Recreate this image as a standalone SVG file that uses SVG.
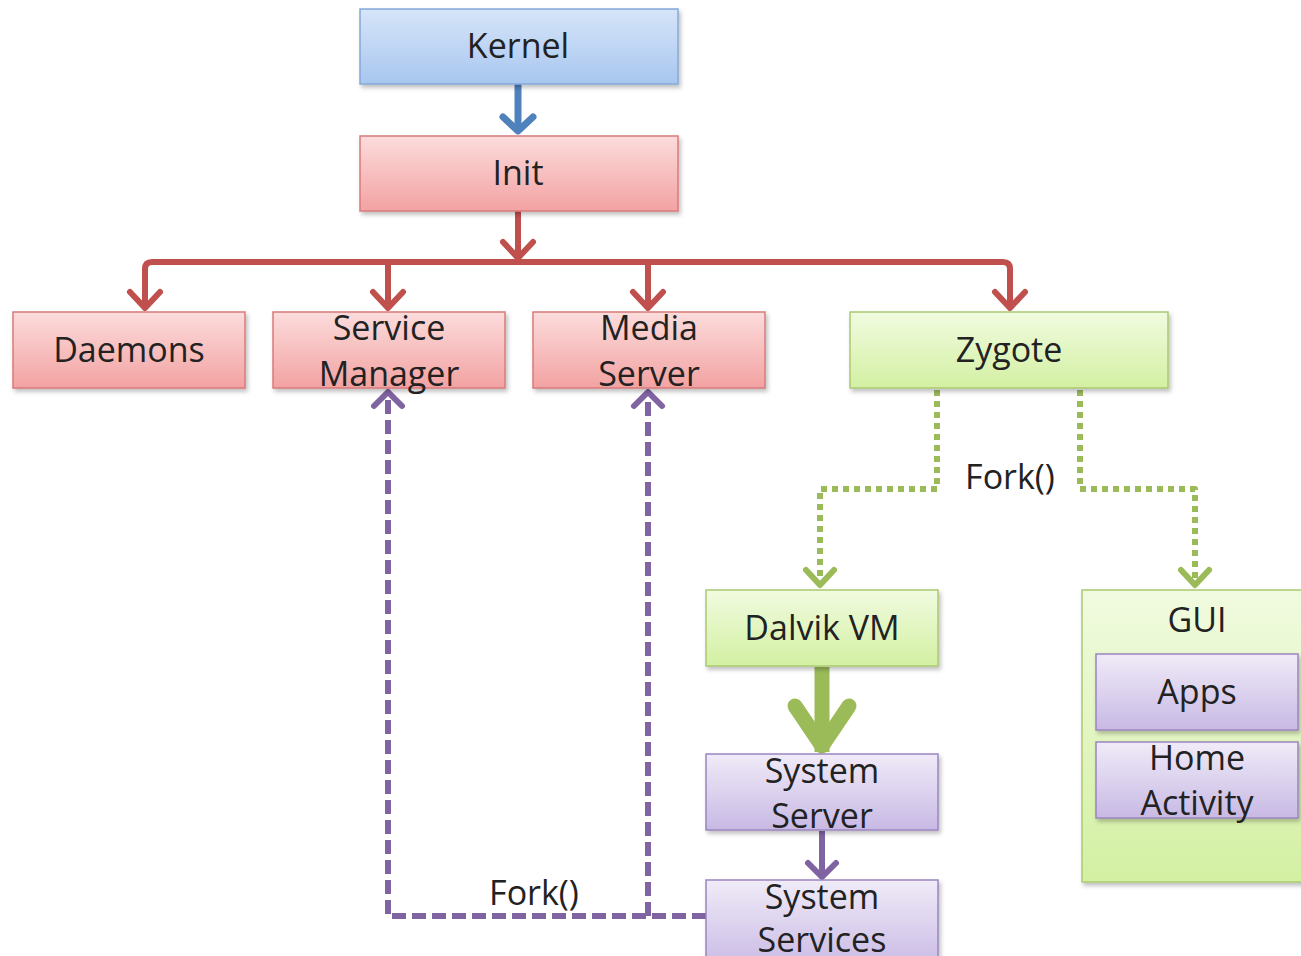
<svg xmlns="http://www.w3.org/2000/svg" width="1301" height="956" viewBox="0 0 1301 956">
  <defs>
    <linearGradient id="gBlue" x1="0" y1="0" x2="0" y2="1">
      <stop offset="0" stop-color="#d6e5f9"/>
      <stop offset="1" stop-color="#a8c6ef"/>
    </linearGradient>
    <linearGradient id="gRed" x1="0" y1="0" x2="0" y2="1">
      <stop offset="0" stop-color="#fcdcdc"/>
      <stop offset="1" stop-color="#f3a2a2"/>
    </linearGradient>
    <linearGradient id="gGreen" x1="0" y1="0" x2="0" y2="1">
      <stop offset="0" stop-color="#f1fbe0"/>
      <stop offset="1" stop-color="#d3f0a2"/>
    </linearGradient>
    <linearGradient id="gPurple" x1="0" y1="0" x2="0" y2="1">
      <stop offset="0" stop-color="#f0ebf8"/>
      <stop offset="1" stop-color="#c8b9e4"/>
    </linearGradient>
    <filter id="shadow" x="-5%" y="-10%" width="115%" height="130%">
      <feDropShadow dx="2" dy="3" stdDeviation="2" flood-color="#000" flood-opacity="0.25"/>
    </filter>
    <marker id="aBlue" viewBox="-25 -25 50 50" markerWidth="50" markerHeight="50" markerUnits="userSpaceOnUse" refX="0" refY="0" orient="auto">
      <path d="M-15,-15 L-1,0 L-15,15" fill="none" stroke="#4f81bd" stroke-width="7" stroke-linecap="round" stroke-linejoin="round"/>
    </marker>
    <marker id="aRed" viewBox="-25 -25 50 50" markerWidth="50" markerHeight="50" markerUnits="userSpaceOnUse" refX="0" refY="0" orient="auto">
      <path d="M-17,-15 L-1,0 L-17,15" fill="none" stroke="#c0504d" stroke-width="6" stroke-linecap="round" stroke-linejoin="round"/>
    </marker>
    <marker id="aGreen" viewBox="-25 -25 50 50" markerWidth="50" markerHeight="50" markerUnits="userSpaceOnUse" refX="0" refY="0" orient="auto">
      <path d="M-16,-14 L-1,0 L-16,14" fill="none" stroke="#9bbb59" stroke-width="6" stroke-linecap="round" stroke-linejoin="round"/>
    </marker>
    <marker id="aGreenBig" viewBox="-60 -60 120 120" markerWidth="120" markerHeight="120" markerUnits="userSpaceOnUse" refX="0" refY="0" orient="auto">
      <path d="M-46,-27 L-6,0 L-46,27" fill="none" stroke="#9bbb59" stroke-width="15" stroke-linecap="round" stroke-linejoin="round"/>
    </marker>
    <marker id="aPurple" viewBox="-25 -25 50 50" markerWidth="50" markerHeight="50" markerUnits="userSpaceOnUse" refX="0" refY="0" orient="auto">
      <path d="M-15,-14 L-1,0 L-15,14" fill="none" stroke="#8064a2" stroke-width="6" stroke-linecap="round" stroke-linejoin="round"/>
    </marker>
    <style>
      .box { stroke-width: 1.5; filter: url(#shadow); }
      .blue { fill: url(#gBlue); stroke: #84a8d8; }
      .red { fill: url(#gRed); stroke: #d77b7a; }
      .green { fill: url(#gGreen); stroke: #abc972; }
      .purple { fill: url(#gPurple); stroke: #9b85c0; }
      text { font-family: "Open Sans", "Liberation Sans", sans-serif; font-size: 34px; fill: #222; text-anchor: middle; }
      .c { fill: none; stroke-linejoin: round; }
      .red-line { stroke: #c0504d; stroke-width: 6; marker-end: url(#aRed); }
      .green-dot { stroke: #9bbb59; stroke-width: 6; stroke-dasharray: 6 5; marker-end: url(#aGreen); }
      .purple-dash { stroke: #8064a2; stroke-width: 6; stroke-dasharray: 14 6; marker-end: url(#aPurple); }
    </style>
  </defs>

  <g id="connectors">
    <!-- Kernel to Init -->
    <path class="c" d="M518,84 V132" stroke="#4f81bd" stroke-width="7" marker-end="url(#aBlue)"/>
    <!-- Init fan-out -->
    <path class="c red-line" d="M518,211 V259"/>
    <path class="c red-line" d="M518,262 H152 Q145,262 145,269 V309"/>
    <path class="c red-line" d="M518,262 H1003 Q1010,262 1010,269 V309"/>
    <path class="c red-line" d="M388,262 V309"/>
    <path class="c red-line" d="M648,262 V309"/>
    <!-- Zygote forks -->
    <path class="c green-dot" d="M937,390 V489 H820 V586"/>
    <path class="c green-dot" d="M1080,390 V489 H1195 V586"/>
    <!-- Dalvik VM to System Server -->
    <path class="c" d="M822,667 V752" stroke="#9bbb59" stroke-width="15" marker-end="url(#aGreenBig)"/>
    <!-- System Server to System Services -->
    <path class="c" d="M822,831 V878" stroke="#8064a2" stroke-width="6" marker-end="url(#aPurple)"/>
    <!-- System Services forks -->
    <path class="c purple-dash" d="M706,916 H388 V391"/>
    <path class="c purple-dash" d="M648,916 V391"/>
    <text x="1010" y="489">Fork()</text>
    <text x="534" y="905">Fork()</text>
  </g>

  <g id="kernel">
    <rect class="box blue" x="360" y="9" width="318" height="75"/>
    <text x="518" y="58">Kernel</text>
  </g>
  <g id="init">
    <rect class="box red" x="360" y="136" width="318" height="75"/>
    <text x="518" y="185">Init</text>
  </g>
  <g id="daemons">
    <rect class="box red" x="13" y="312" width="232" height="76"/>
    <text x="129" y="362">Daemons</text>
  </g>
  <g id="service-manager">
    <rect class="box red" x="273" y="312" width="232" height="76"/>
    <text x="389" y="340">Service</text>
    <text x="389" y="386">Manager</text>
  </g>
  <g id="media-server">
    <rect class="box red" x="533" y="312" width="232" height="76"/>
    <text x="649" y="340">Media</text>
    <text x="649" y="386">Server</text>
  </g>
  <g id="zygote">
    <rect class="box green" x="850" y="312" width="318" height="76"/>
    <text x="1009" y="362">Zygote</text>
  </g>
  <g id="dalvik-vm">
    <rect class="box green" x="706" y="590" width="232" height="76"/>
    <text x="822" y="640">Dalvik VM</text>
  </g>
  <g id="system-server">
    <rect class="box purple" x="706" y="754" width="232" height="76"/>
    <text x="822" y="783">System</text>
    <text x="822" y="828">Server</text>
  </g>
  <g id="system-services">
    <rect class="box purple" x="706" y="880" width="232" height="90"/>
    <text x="822" y="909">System</text>
    <text x="822" y="952">Services</text>
  </g>
  <g id="gui">
    <rect class="box green" x="1082" y="590" width="240" height="292"/>
    <text x="1197" y="632">GUI</text>
  </g>
  <g id="apps">
    <rect class="box purple" x="1096" y="654" width="202" height="76"/>
    <text x="1197" y="704">Apps</text>
  </g>
  <g id="home-activity">
    <rect class="box purple" x="1096" y="742" width="202" height="76"/>
    <text x="1197" y="770">Home</text>
    <text x="1197" y="815">Activity</text>
  </g>
</svg>
